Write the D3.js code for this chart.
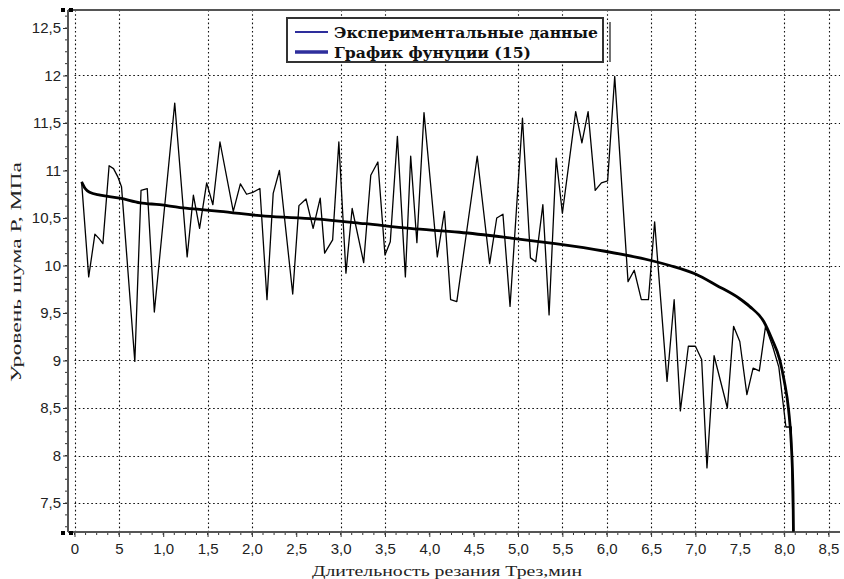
<!DOCTYPE html>
<html>
<head>
<meta charset="utf-8">
<script src="https://cdnjs.cloudflare.com/ajax/libs/d3/7.8.5/d3.min.js"></script>
<style>
  html, body { margin:0; padding:0; background:#fff; }
  svg { display:block; }
</style>
</head>
<body>
<div id="chart"></div>
<script>
// Experimental data: cutting time (min) and noise level (MPa)
const expT = [0.08,0.16,0.23,0.28,0.32,0.39,0.44,0.49,0.53,0.68,0.75,0.82,0.90,1.13,1.27,1.34,1.41,1.49,1.56,1.64,
  1.79,1.87,1.94,2.01,2.09,2.17,2.24,2.31,2.46,2.53,2.61,2.69,2.77,2.82,2.91,2.98,3.06,3.13,3.26,3.34,
  3.42,3.50,3.56,3.64,3.73,3.79,3.86,3.94,4.09,4.17,4.24,4.31,4.54,4.68,4.76,4.83,4.91,5.05,5.14,5.20,
  5.28,5.35,5.43,5.50,5.65,5.72,5.79,5.87,5.94,6.01,6.09,6.24,6.31,6.39,6.47,6.54,6.68,6.76,6.83,6.92,
  7.00,7.07,7.13,7.21,7.36,7.43,7.50,7.58,7.65,7.72,7.79,7.87,7.94,8.02,8.08,8.10];
const expP = [10.88,9.88,10.33,10.28,10.23,11.05,11.02,10.93,10.83,8.99,10.79,10.81,9.51,11.71,10.09,10.74,10.39,10.87,10.64,11.30,
  10.57,10.86,10.75,10.77,10.81,9.64,10.76,11.00,9.70,10.63,10.70,10.39,10.71,10.13,10.27,11.30,9.92,10.60,10.03,10.95,
  11.09,10.11,10.25,11.36,9.88,11.15,10.24,11.61,10.09,10.57,9.64,9.62,11.15,10.02,10.50,10.54,9.57,11.55,10.08,10.04,
  10.64,9.48,11.13,10.55,11.62,11.29,11.62,10.79,10.87,10.89,11.99,9.83,9.95,9.64,9.64,10.46,8.78,9.64,8.47,9.15,
  9.15,9.01,7.87,9.05,8.50,9.36,9.20,8.64,8.92,8.89,9.36,9.15,8.93,8.30,8.30,7.20];

// Function (15)
const fitT = [0.08,0.12,0.17,0.29,0.51,0.74,0.96,1.19,1.41,1.64,2.15,2.71,3.27,3.78,4.34,4.91,5.42,5.98,6.51,6.71,
  7.00,7.24,7.50,7.61,7.77,7.86,7.95,8.00,8.05,8.08,8.10,8.105];
const fitP = [10.88,10.81,10.77,10.74,10.71,10.66,10.64,10.61,10.59,10.57,10.52,10.49,10.44,10.39,10.35,10.29,10.23,10.15,10.05,10.00,
  9.91,9.79,9.65,9.57,9.41,9.23,9.01,8.79,8.48,8.13,7.60,7.20];

const xTicks = [0,0.5,1,1.5,2,2.5,3,3.5,4,4.5,5,5.5,6,6.5,7,7.5,8,8.5];
const xTickLabels = ['0','5','1,0','1,5','2,0','2,5','3,0','3,5','4,0','4,5','5,0','5,5','6,0','6,5','7,0','7,5','8,0','8,5'];
const yTicks = [7.5,8,8.5,9,9.5,10,10.5,11,11.5,12,12.5];
const yTickLabels = ['7,5','8','8,5','9','9,5','10','10,5','11','11,5','12','12,5'];
const xGrid = [0,0.5,1.5,2,3,3.5,5,5.5,6,6.5,7,8,8.5];
const yGrid = [7.5,8,8.5,9,10,11.5,12];

const legendItems = ['Экспериментальные данные','График фунуции (15)'];

const W = 844, H = 579;
const svg = d3.select('#chart').append('svg').attr('width', W).attr('height', H);

const x = d3.scaleLinear().domain([0, 8.5]).range([74.5, 828.5]);
const y = d3.scaleLinear().domain([7.5, 12.5]).range([503, 28]);
const pLeft = 68, pRight = 840, pTop = 10, pBottom = 532;

// grid
const grid = svg.append('g').attr('stroke', '#111').attr('stroke-width', 1.1).attr('stroke-dasharray', '1.6,2.6');
grid.selectAll('.gx').data(xGrid).join('line').attr('class', 'gx')
  .attr('x1', d => Math.round(x(d)) + 0.5).attr('x2', d => Math.round(x(d)) + 0.5)
  .attr('y1', pTop).attr('y2', pBottom);
grid.selectAll('.gy').data(yGrid).join('line').attr('class', 'gy')
  .attr('x1', x(0)).attr('x2', pRight)
  .attr('y1', d => Math.round(y(d)) + 0.5).attr('y2', d => Math.round(y(d)) + 0.5);

// axes
const minorX = d3.range(0, 8.51, 0.125);
const minorY = d3.range(7.25, 12.7, 0.125);

const xAxis = d3.axisBottom(x).tickValues(xTicks).tickSize(5).tickSizeOuter(0).tickPadding(6)
  .tickFormat((d, i) => xTickLabels[i]);
const gx = svg.append('g').attr('transform', `translate(0,${pBottom})`).call(xAxis);
gx.select('.domain').remove();
gx.selectAll('.tick line').attr('stroke', '#333');
gx.selectAll('text').attr('font-family', 'Liberation Sans, Arial, sans-serif').attr('font-size', 15).attr('fill', '#222');
svg.append('g').selectAll('line').data(minorX).join('line')
  .attr('x1', d => x(d)).attr('x2', d => x(d)).attr('y1', pBottom).attr('y2', pBottom + 3)
  .attr('stroke', '#333');

const yAxis = d3.axisLeft(y).tickValues(yTicks).tickSize(5).tickSizeOuter(0).tickPadding(2)
  .tickFormat((d, i) => yTickLabels[i]);
const gy = svg.append('g').attr('transform', `translate(${pLeft},0)`).call(yAxis);
gy.select('.domain').remove();
gy.selectAll('.tick line').attr('stroke', '#333');
gy.selectAll('text').attr('font-family', 'Liberation Sans, Arial, sans-serif').attr('font-size', 15).attr('fill', '#222');
svg.append('g').selectAll('line').data(minorY).join('line')
  .attr('x1', pLeft - 3).attr('x2', pLeft).attr('y1', d => y(d)).attr('y2', d => y(d))
  .attr('stroke', '#333');

// frame lines
svg.append('line').attr('x1', pLeft).attr('x2', pLeft).attr('y1', pTop).attr('y2', pBottom)
  .attr('stroke', '#555').attr('stroke-width', 2);
svg.append('line').attr('x1', pLeft).attr('x2', pRight).attr('y1', pBottom).attr('y2', pBottom)
  .attr('stroke', '#555').attr('stroke-width', 2);
svg.append('line').attr('x1', pLeft).attr('x2', pRight).attr('y1', pTop).attr('y2', pTop)
  .attr('stroke', '#555').attr('stroke-width', 2);

// little corner markers
[[61, 8], [69, 8], [61, 531], [69, 531]].forEach(([cx, cy]) => {
  svg.append('rect').attr('x', cx).attr('y', cy).attr('width', 4).attr('height', 4).attr('fill', '#000');
});

// data lines
const plot = svg.append('g');
const line = d3.line().x(d => x(d[0])).y(d => y(d[1]));
plot.append('path')
  .datum(expT.map((t, i) => [t, expP[i]]))
  .attr('fill', 'none').attr('stroke', '#000').attr('stroke-width', 1.3).attr('stroke-linejoin', 'round')
  .attr('d', line);
plot.append('path')
  .datum(fitT.map((t, i) => [t, fitP[i]]))
  .attr('fill', 'none').attr('stroke', '#000').attr('stroke-width', 2.8)
  .attr('d', line.curve(d3.curveMonotoneX));

// legend
const lg = svg.append('g');
lg.append('rect').attr('x', 287).attr('y', 18).attr('width', 316).attr('height', 44)
  .attr('fill', '#fff').attr('stroke', '#333').attr('stroke-width', 2);
lg.append('line').attr('x1', 610).attr('x2', 610).attr('y1', 22).attr('y2', 62).attr('stroke', '#444').attr('stroke-width', 1.5);
const legW = [264, 197];
legendItems.forEach((txt, i) => {
  const ly = 32 + i * 20;
  lg.append('line').attr('x1', 295).attr('x2', 328).attr('y1', ly).attr('y2', ly)
    .attr('stroke', '#2e2e9c').attr('stroke-width', i === 0 ? 2 : 3.5);
  lg.append('text').attr('x', 334).attr('y', ly + 5.5).text(txt)
    .attr('font-family', 'DejaVu Serif, serif').attr('font-weight', 'bold').attr('font-size', 15.5)
    .attr('textLength', legW[i]).attr('lengthAdjust', 'spacingAndGlyphs').attr('fill', '#111');
});

// axis titles
svg.append('text').attr('x', 447).attr('y', 576).attr('text-anchor', 'middle')
  .attr('font-family', 'Liberation Serif, Times New Roman, serif').attr('font-size', 15).attr('fill', '#222')
  .attr('textLength', 270).attr('lengthAdjust', 'spacingAndGlyphs')
  .text('Длительность резания Трез,мин');
svg.append('text').attr('transform', 'translate(21,272) rotate(-90)').attr('text-anchor', 'middle')
  .attr('font-family', 'Liberation Serif, Times New Roman, serif').attr('font-size', 15).attr('fill', '#222')
  .attr('textLength', 220).attr('lengthAdjust', 'spacingAndGlyphs')
  .text('Уровень шума Р, МПа');
</script>
</body>
</html>
